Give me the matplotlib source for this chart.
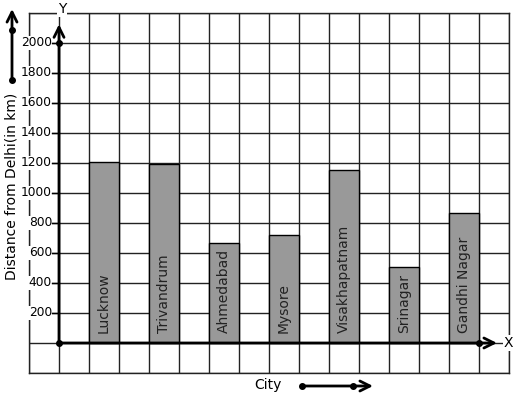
import numpy as np
import matplotlib
matplotlib.use('Agg')
import matplotlib.pyplot as plt

# data
cities = ['Lucknow', 'Trivandrum', 'Ahmedabad', 'Mysore',
          'Visakhapatnam', 'Srinagar', 'Gandhi Nagar']
distances = [1205, 1195, 670, 720, 1150, 510, 865]
y_ticks = [200, 400, 600, 800, 1000, 1200, 1400, 1600, 1800, 2000]

W, H = 517, 399
fig = plt.figure(figsize=(W / 100, H / 100), dpi=100)

# grid area: pixels x 29..509, y 13..373 ; one cell = 30 px
ax = fig.add_axes([29 / W, 1 - 373 / H, 480 / W, 360 / H])
ax.set_xlim(-1, 15)
ax.set_ylim(-200, 2200)
ax.set_xticks(np.arange(-1, 16))
ax.set_yticks(np.arange(-200, 2201, 200))
ax.tick_params(length=0, labelbottom=False, labelleft=False)
ax.grid(True, color='#222222', linewidth=1.0)
ax.set_axisbelow(True)
for s in ax.spines.values():
    s.set_linewidth(1.0)
    s.set_color('#222222')

# bars
xpos = np.arange(len(cities)) * 2 + 1.5
ax.bar(xpos, distances, width=1.0, color='#999999', edgecolor='black',
       linewidth=1.0, zorder=3)
for x, name in zip(xpos, cities):
    ax.text(x, 67, name, rotation=90, ha='center', va='bottom',
            fontsize=10, color='#222222', zorder=4)

# y tick labels with small dashes
for v in y_ticks:
    ax.text(-0.23, v, str(v), ha='right', va='center', fontsize=8.8,
            color='black', zorder=5,
            bbox=dict(facecolor='white', edgecolor='none', pad=0.3))
    ax.plot([-0.23, 0], [v, v], color='black', lw=1, zorder=5, clip_on=False)

# axes lines with arrows
ax.annotate('', xy=(0, 2125), xytext=(0, 0),
            arrowprops=dict(arrowstyle='->', lw=2.0, color='black',
                            mutation_scale=18, shrinkA=0, shrinkB=0),
            zorder=6)
ax.annotate('', xy=(14.6, 0), xytext=(0, 0),
            arrowprops=dict(arrowstyle='->', lw=2.0, color='black',
                            mutation_scale=18, shrinkA=0, shrinkB=0),
            zorder=6)
ax.plot([0, 0, 14], [0, 2000, 0], 'o', color='black', ms=4, zorder=7,
        clip_on=False)
ax.text(14.97, 0, 'X', ha='center', va='center', fontsize=10,
        bbox=dict(facecolor='white', edgecolor='none', pad=0.5), zorder=7)

# decorations in pixel coordinates
ov = fig.add_axes([0, 0, 1, 1])
ov.set_xlim(0, W)
ov.set_ylim(H, 0)
ov.axis('off')
ov.patch.set_alpha(0)

ov.text(62, 9, 'Y', ha='center', va='center', fontsize=10,
        bbox=dict(facecolor='white', edgecolor='none', pad=0.5))
ov.text(12, 186, 'Distance from Delhi(in km)', rotation=90,
        ha='center', va='center', fontsize=10)
ov.text(268, 385, 'City', ha='center', va='center', fontsize=10)

ov.annotate('', xy=(12, 9), xytext=(12, 80),
            arrowprops=dict(arrowstyle='->', lw=2.0, color='black',
                            mutation_scale=18, shrinkA=0, shrinkB=0))
ov.plot([12, 12], [30, 80], 'o', color='black', ms=4)
ov.annotate('', xy=(373, 386), xytext=(302, 386),
            arrowprops=dict(arrowstyle='->', lw=2.0, color='black',
                            mutation_scale=18, shrinkA=0, shrinkB=0))
ov.plot([302, 353], [386, 386], 'o', color='black', ms=4)

fig.savefig('out.png', dpi=100)
